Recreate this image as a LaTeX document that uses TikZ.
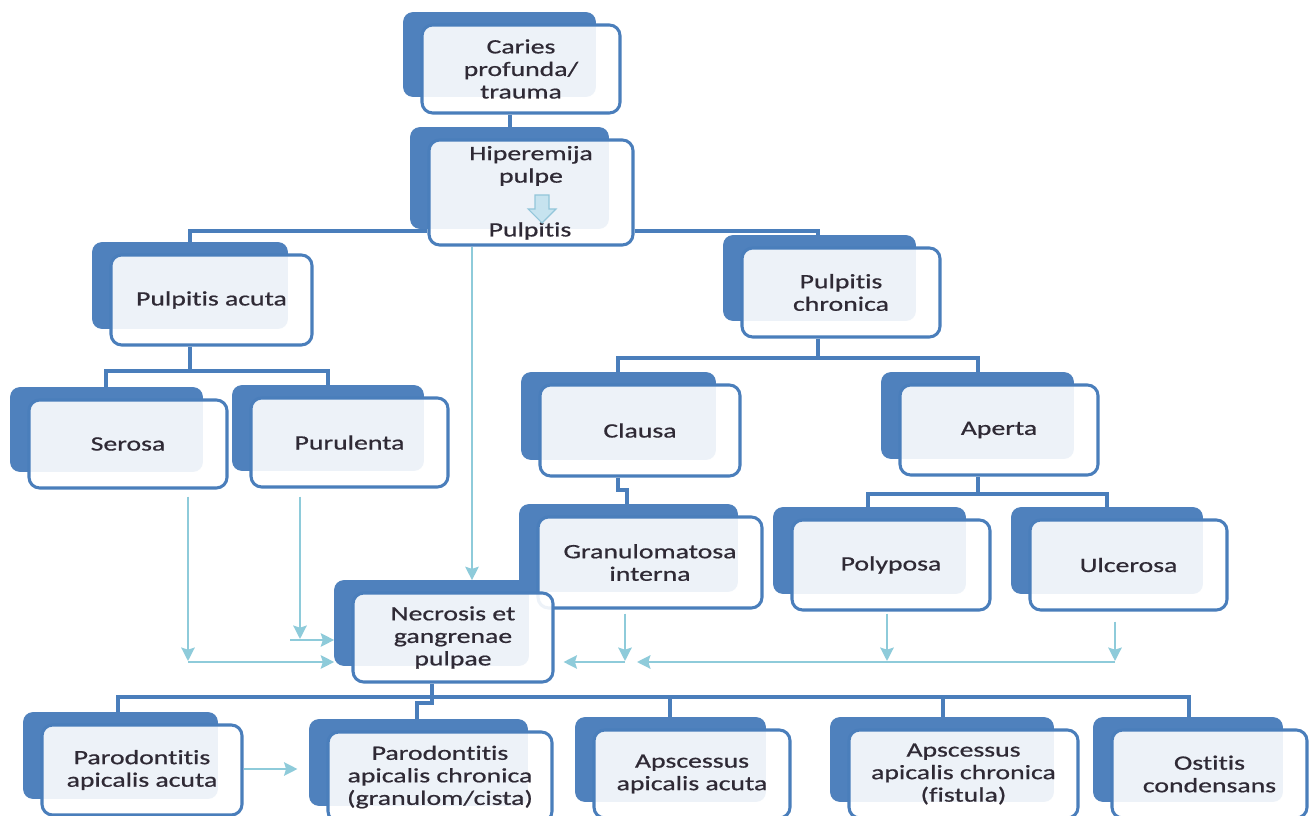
\documentclass[tikz,border=0pt]{standalone}
\usepackage{fontspec}
\setmainfont{Carlito}[FakeStretch=1.36,FakeBold=0.7,Ligatures=NoCommon]
\usetikzlibrary{arrows.meta,calc}
\definecolor{boxblue}{HTML}{4F81BD}
\definecolor{edgeblue}{HTML}{4A7EBB}
\definecolor{lightarrow}{HTML}{8ECBDA}
\definecolor{txt}{HTML}{2F2A35}
\definecolor{arrowfill}{HTML}{C6E3EF}
\definecolor{arrowedge}{HTML}{93C6DA}
\tikzset{
 backbox/.style={draw=boxblue, fill=boxblue, rounded corners=7pt, line width=0.5pt, inner sep=0pt},
 frontbox/.style={draw=edgeblue, line width=2.3pt, fill=white, fill opacity=0.9, text opacity=1, rounded corners=8pt, align=center, text=txt, font=\fontsize{15.3}{16.9}\selectfont, inner sep=0pt},
 lbl/.style={align=center, text=txt, font=\fontsize{15.3}{16.9}\selectfont, inner sep=0pt},
 tree/.style={draw=edgeblue, line width=2.3pt},
 flow/.style={draw=lightarrow, line width=1.9pt, -{Stealth[length=10pt,width=10pt,inset=1.5pt]}},
}
\newcommand\tbox[6]{%
 \node[backbox, minimum width={(#4-6)*0.75pt}, minimum height={(#5-4)*0.75pt}] (#1b) at ({#2-21.5},{#3-14.5}) {};
 \node[frontbox, minimum width={#4*0.75pt}, minimum height={#5*0.75pt}] (#1) at (#2,#3) {#6};
}
\begin{document}
\begin{tikzpicture}[x=0.75pt,y=-0.75pt]
\useasboundingbox (0,0) rectangle (1311,816);
\fill[white] (0,0) rectangle (1311,816);

% boxes
\tbox{caries}{521}{69}{198}{88}{Caries\\profunda/\\trauma}
\tbox{hiper}{531}{192.5}{204}{105}{}
\node[lbl] (hiptxt) at (531,166) {Hiperemija\\pulpe};
\node[lbl] (pulp) at (530,231) {Pulpitis};
\draw[fill=arrowfill, draw=arrowedge, line width=0.8pt] (535,195) -- (549,195) -- (549,209) -- (556,209) -- (542,223) -- (528,209) -- (535,209) -- cycle;
\tbox{acuta}{211.5}{300}{201}{90}{Pulpitis acuta}
\tbox{chron}{841}{292.5}{198}{89}{Pulpitis\\chronica}
\tbox{serosa}{128}{444}{198}{88}{Serosa}
\tbox{purul}{349.5}{442.5}{197}{89}{Purulenta}
\tbox{clausa}{640}{430.5}{200}{91}{Clausa}
\tbox{aperta}{999}{430}{198}{90}{Aperta}
\tbox{granul}{650}{562.5}{224}{91}{Granulomatosa\\interna}
\tbox{polyp}{891}{565}{198}{90}{Polyposa}
\tbox{ulcer}{1128.5}{565}{197}{90}{Ulcerosa}
\tbox{necro}{453}{637.5}{200}{89}{Necrosis et\\gangrenae\\pulpae}
\tbox{paac}{142}{770}{200}{90}{Parodontitis\\apicalis acuta}
\tbox{pach}{440}{777}{224}{90}{Parodontitis\\apicalis chronica\\(granulom/cista)}
\tbox{apac}{692}{774}{196}{88}{Apscessus\\apicalis acuta}
\tbox{apch}{963.5}{774}{229}{88}{Apscessus\\apicalis chronica\\(fistula)}
\tbox{ostit}{1209.5}{774}{195}{88}{Ostitis\\condensans}

% tree connectors
\coordinate (k1) at (510,0);
\draw[tree] (k1 |- caries.south) -- (k1 |- hiperb.north);
\coordinate (t1) at (190,231); \coordinate (t2) at (818,231);
\draw[tree] (t1 |- acutab.north) -- (t1) -- (t1 -| hiper.west);
\draw[tree] (t2 -| hiper.east) -- (t2) -- (t2 |- chronb.north);

\coordinate (a1) at (190,371); \coordinate (a2) at (106,371); \coordinate (a3) at (328,371);
\draw[tree] (a1 |- acuta.south) -- (a1);
\draw[tree] (a2 |- serosab.north) -- (a2) -- (a3) -- (a3 |- purulb.north);

\coordinate (c1) at (818,358); \coordinate (c2) at (618,358); \coordinate (c3) at (978,358);
\draw[tree] (c1 |- chron.south) -- (c1);
\draw[tree] (c2 |- clausab.north) -- (c2) -- (c3) -- (c3 |- apertab.north);

\coordinate (g1) at (618,490); \coordinate (g2) at (627,490);
\draw[tree] (g1 |- clausa.south) -- (g1) -- (g2) -- (g2 |- granulb.north);

\coordinate (p1) at (978,494); \coordinate (p2) at (868,494); \coordinate (p3) at (1107,494);
\draw[tree] (p1 |- aperta.south) -- (p1);
\draw[tree] (p2 |- polypb.north) -- (p2) -- (p3) -- (p3 |- ulcerb.north);

\coordinate (n0) at (118,697); \coordinate (n1) at (432,697); \coordinate (n5) at (1189,697);
\coordinate (n3) at (670,697); \coordinate (n4) at (943,697);
\coordinate (n2a) at (432,703); \coordinate (n2b) at (417,703);
\draw[tree] (n1 |- necro.south) -- (n2a) -- (n2b) -- (n2b |- pachb.north);
\draw[tree] (n0 |- paacb.north) -- (n0) -- (n5) -- (n5 |- ostitb.north);
\draw[tree] (n3) -- (n3 |- apacb.north);
\draw[tree] (n4) -- (n4 |- apchb.north);

% flow arrows
\coordinate (f1) at (472,0);
\draw[flow] (f1 |- hiper.south) -- (f1 |- necrob.north);
\coordinate (s1) at (188,662);
\draw[flow] ($(s1 |- serosa.south)+(0,7)$) -- ($(s1)+(0,-1)$);
\draw[flow] (s1) -- (s1 -| necrob.west);
\coordinate (r1) at (300,640);
\draw[flow] ($(r1 |- purul.south)+(0,8)$) -- ($(r1)+(0,-1)$);
\draw[flow] ($(r1)+(-10,0)$) -- (r1 -| necrob.west);
\coordinate (q1) at (625,662);
\draw[flow] ($(q1 |- granul.south)+(0,4)$) -- ($(q1)+(0,-1)$);
\draw[flow] (q1) -- ($(q1 -| necro.east)+(9,0)$);
\coordinate (u0) at (637,662); \coordinate (u1) at (887,662); \coordinate (u2) at (1115,662);
\draw[flow] ($(u1 |- polyp.south)+(0,2)$) -- ($(u1)+(0,-1)$);
\draw[flow] ($(u2 |- ulcer.south)+(0,10)$) -- ($(u2)+(0,-1)$);
\draw[flow] (u2) -- (u0);
\coordinate (v1) at (0,769);
\draw[flow] (v1 -| paac.east) -- ($(v1 -| pach.west)+(-29,0)$);
\end{tikzpicture}
\end{document}
